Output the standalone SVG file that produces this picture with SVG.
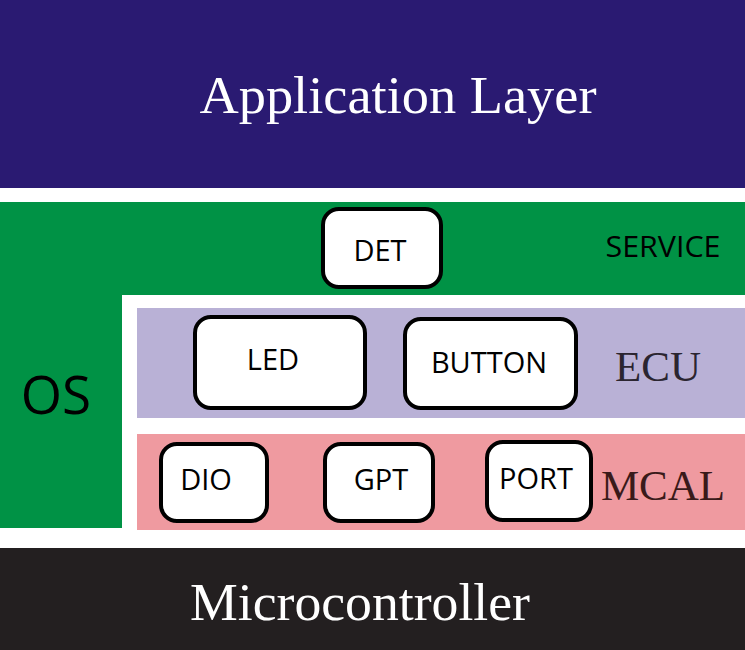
<svg xmlns="http://www.w3.org/2000/svg" width="745" height="650" viewBox="0 0 745 650">
<style>
.box{fill:#fff;stroke:#000;stroke-width:4}
.lbl{font-family:"Open Sans","Noto Sans",sans-serif;font-size:29px;fill:#000;text-anchor:middle}
.ser{font-family:"Liberation Serif","DejaVu Serif",serif}
</style>
<rect width="745" height="650" fill="#fff"/>
<g id="app">
<rect x="0" y="0" width="745" height="188" fill="#2a1a72"/>
<text x="398" y="113" class="ser" font-size="52" fill="#fff" text-anchor="middle" textLength="397" lengthAdjust="spacingAndGlyphs">Application Layer</text>
</g>
<g id="service">
<path d="M0 202 H745 V295 H122 V528 H0 Z" fill="#009245"/>
<text x="663" y="257" font-family="Open Sans, sans-serif" font-size="30" fill="#000" text-anchor="middle" textLength="115" lengthAdjust="spacingAndGlyphs">SERVICE</text>
</g>
<g id="os">
<text x="56" y="414" font-family="Open Sans, sans-serif" font-size="53" fill="#000" text-anchor="middle">OS</text>
</g>
<g id="ecu">
<rect x="137" y="308" width="608" height="110" fill="#b9b1d6"/>
<text x="658" y="381" class="ser" font-size="43" fill="#2b2530" text-anchor="middle">ECU</text>
</g>
<g id="mcal">
<rect x="137" y="434" width="608" height="96" fill="#ef9aa0"/>
<text x="663" y="500" class="ser" font-size="43" fill="#3a1a1a" text-anchor="middle">MCAL</text>
</g>
<g id="micro">
<rect x="0" y="548" width="745" height="102" fill="#231f20"/>
<text x="360" y="620" class="ser" font-size="52" fill="#fff" text-anchor="middle" textLength="340" lengthAdjust="spacingAndGlyphs">Microcontroller</text>
</g>
<g id="det"><rect class="box" x="323" y="209" width="118" height="78" rx="16"/><text class="lbl" x="380" y="261">DET</text></g>
<g id="led"><rect class="box" x="195" y="317" width="170" height="91" rx="16"/><text class="lbl" x="273" y="370">LED</text></g>
<g id="button"><rect class="box" x="405" y="319" width="171" height="89" rx="16"/><text class="lbl" x="489" y="373">BUTTON</text></g>
<g id="dio"><rect class="box" x="161" y="444" width="106" height="77" rx="16"/><text class="lbl" x="206" y="490">DIO</text></g>
<g id="gpt"><rect class="box" x="325" y="444" width="108" height="77" rx="16"/><text class="lbl" x="381" y="490">GPT</text></g>
<g id="port"><rect class="box" x="487" y="442" width="104" height="78" rx="16"/><text class="lbl" x="536" y="489">PORT</text></g>
<g id="connectors"></g>
</svg>
